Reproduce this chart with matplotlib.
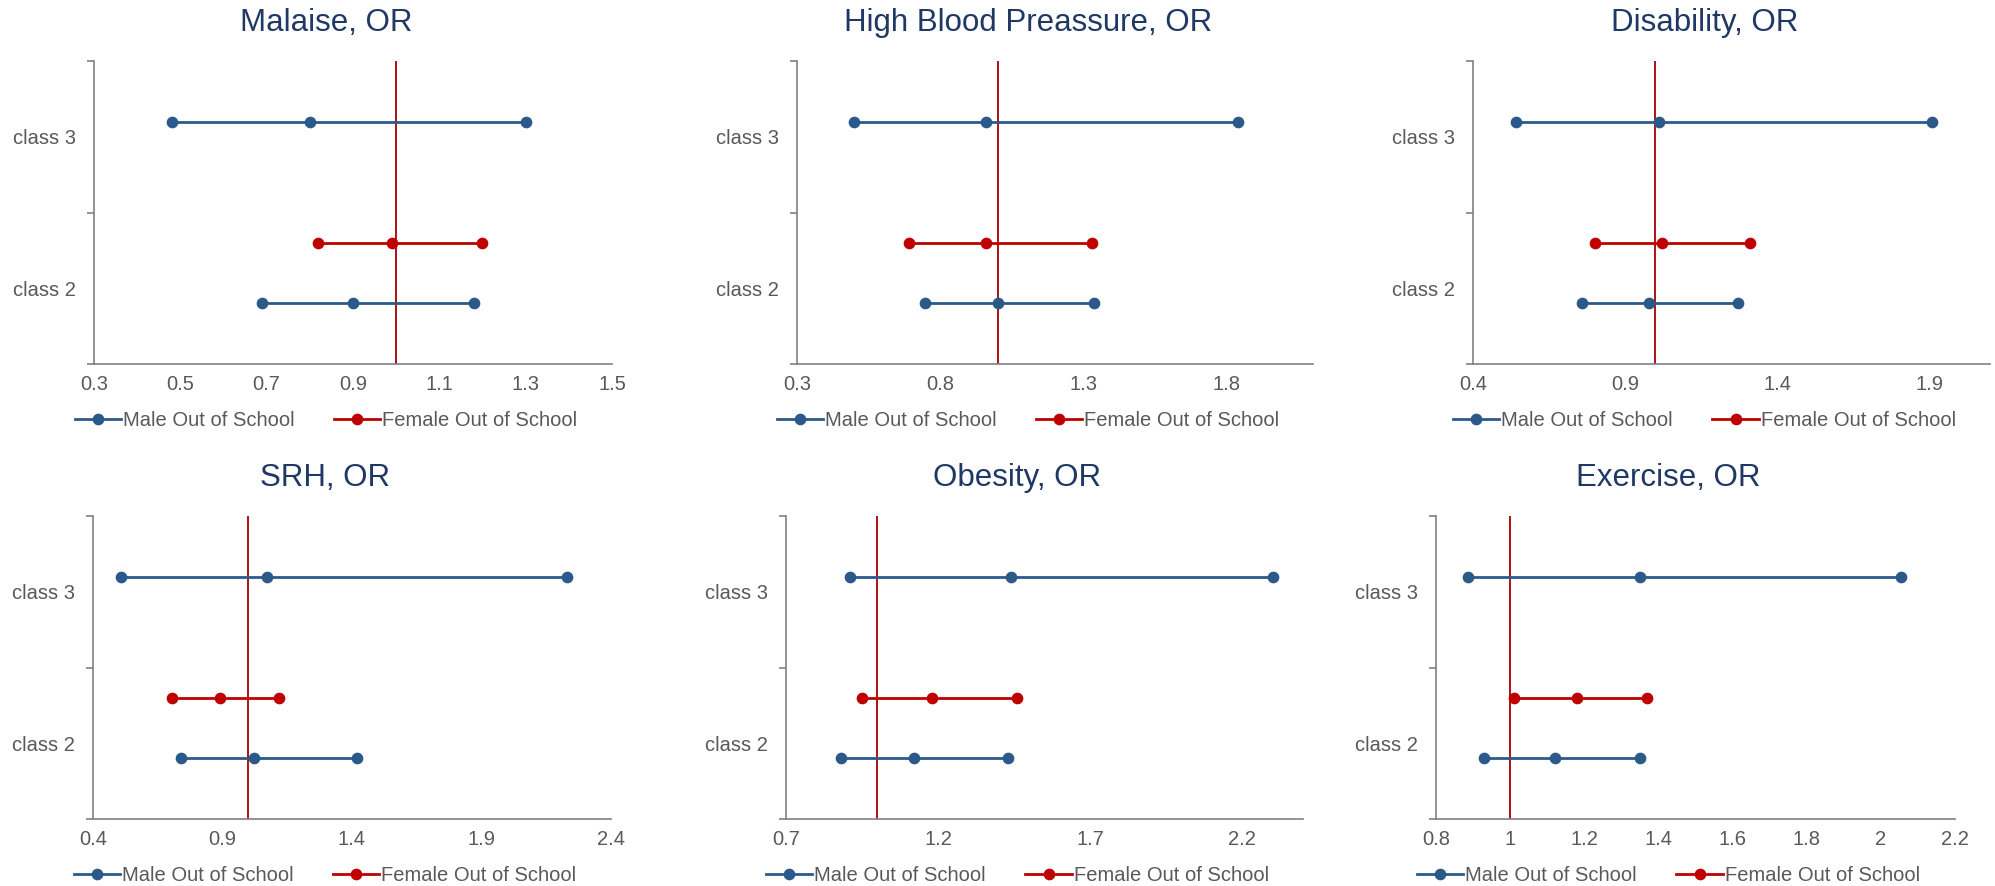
import matplotlib.pyplot as plt
import numpy as np
from matplotlib.lines import Line2D

plt.rcParams['font.family'] = ['Liberation Sans', 'DejaVu Sans']

# data: (lower CI, OR, upper CI) per outcome
titles = ["Malaise, OR", "High Blood Preassure, OR", "Disability, OR",
          "SRH, OR", "Obesity, OR", "Exercise, OR"]
male_class3 = [[0.48, 0.80, 1.30], [0.50, 0.96, 1.84], [0.54, 1.01, 1.91],
               [0.51, 1.07, 2.23], [0.91, 1.44, 2.30], [0.885, 1.35, 2.055]]
female_class2 = [[0.82, 0.99, 1.20], [0.69, 0.96, 1.33], [0.80, 1.02, 1.31],
                 [0.705, 0.89, 1.12], [0.95, 1.18, 1.46], [1.01, 1.18, 1.37]]
male_class2 = [[0.69, 0.90, 1.18], [0.745, 1.00, 1.335], [0.76, 0.98, 1.27],
               [0.74, 1.02, 1.42], [0.88, 1.12, 1.43], [0.93, 1.12, 1.35]]
class_labels = ["class 2", "class 3"]
xlims = [(0.3, 1.5), (0.3, 2.1), (0.4, 2.1), (0.4, 2.4), (0.7, 2.4), (0.8, 2.2)]
xsteps = [0.2, 0.5, 0.5, 0.5, 0.5, 0.2]
ref_value = 1.0

# layout (pixels in a 1995x886 figure)
W, H = 1995, 886
boxes = [(94, 612, 364), (797, 1313, 364), (1473, 1990, 364),
         (93, 611, 819), (786, 1303, 819), (1436, 1955, 819)]
ax_h = 303

blue = '#2B5A8A'
red = '#C00000'
refred = '#A80000'
grey = '#808080'
txt = '#595959'
title_col = '#1F3864'

fig = plt.figure(figsize=(W / 100, H / 100), dpi=100)

for i in range(6):
    l, r, b = boxes[i]
    ax = fig.add_axes([l / W, (H - b) / H, (r - l) / W, ax_h / H])

    for vals, y, c in [(male_class3[i], 1.6, blue), (female_class2[i], 0.8, red),
                       (male_class2[i], 0.4, blue)]:
        ax.plot(vals, [y] * len(vals), '-o', color=c, lw=2.0, ms=7.4, zorder=3)
    ax.axvline(ref_value, color=refred, lw=1.3, zorder=2)

    x0, x1 = xlims[i]
    ax.set_xlim(x0, x1)
    ax.set_ylim(0, 2)
    ticks = np.arange(x0, x1 + 1e-9, xsteps[i])
    ax.set_xticks(ticks)
    ax.set_xticklabels([f"{round(t, 2):g}" for t in ticks])
    ax.tick_params(axis='x', length=0, pad=8, labelsize=14.5, labelcolor=txt)

    ax.set_yticks([0, 1, 2])
    ax.set_yticklabels([])
    ax.set_yticks([0.5, 1.5], minor=True)
    ax.set_yticklabels(class_labels, minor=True)
    ax.tick_params(axis='y', which='major', length=5, width=1.2, color=grey)
    ax.tick_params(axis='y', which='minor', length=0, pad=13, labelsize=14.5,
                   labelcolor=txt)

    for s in ['top', 'right']:
        ax.spines[s].set_visible(False)
    for s in ['left', 'bottom']:
        ax.spines[s].set_color(grey)
        ax.spines[s].set_linewidth(1.2)

    cx = 0.5 - 27 / (r - l)
    ax.text(cx, 1.125, titles[i], transform=ax.transAxes, ha='center',
            va='center', fontsize=22.5, color=title_col)

    handles = [Line2D([], [], color=blue, lw=2.0, marker='o', ms=7.4),
               Line2D([], [], color=red, lw=2.0, marker='o', ms=7.4)]
    ax.legend(handles, ["Male Out of School", "Female Out of School"],
              loc='center', bbox_to_anchor=(cx, -0.185), ncol=2, frameon=False,
              fontsize=14.5, labelcolor=txt, handlelength=2.3,
              handletextpad=0.1, columnspacing=1.95)

fig.savefig('out.png', dpi=100)
